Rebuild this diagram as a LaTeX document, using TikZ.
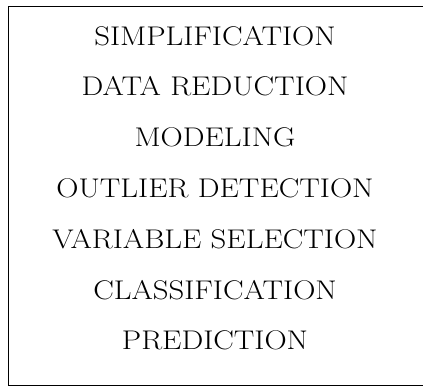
\documentclass[tikz,border=0pt]{standalone}
\usetikzlibrary{positioning}
\tikzset{
  frame/.style={draw,line width=1.3pt,inner sep=0pt},
  entry/.style={font=\fontsize{27}{32}\selectfont,anchor=base,inner sep=0pt}
}
\newcommand{\widecaps}[1]{\scalebox{1.14}[1]{#1}}
\begin{document}
\begin{tikzpicture}[x=1pt,y=-1pt]
  \useasboundingbox (0,0) rectangle (423,388);
  \node[frame,minimum width=460pt,minimum height=379pt,anchor=north west] (box) at (8,6) {};
  \foreach \name [count=\i from 0] in {SIMPLIFICATION,DATA REDUCTION,MODELING,OUTLIER DETECTION,VARIABLE SELECTION,CLASSIFICATION,PREDICTION}
    \node[entry] (item\i) at (215,{45+50.8*\i}) {\widecaps{\name}};
\end{tikzpicture}
\end{document}
